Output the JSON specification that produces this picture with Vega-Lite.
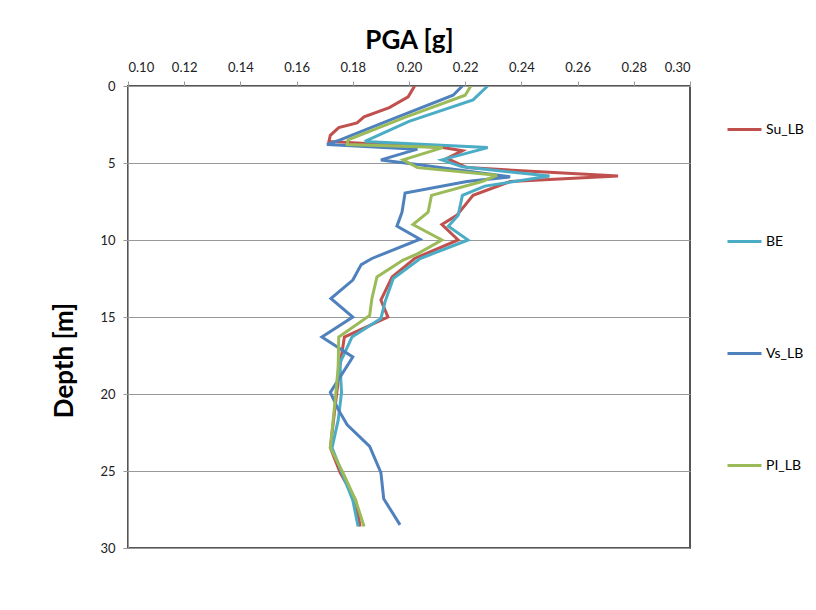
{
  "$schema": "https://vega.github.io/schema/vega-lite/v6.json",
  "width": 562,
  "height": 462,
  "autosize": {"type": "none"},
  "padding": {"left": 128, "top": 86, "right": 126, "bottom": 62},
  "background": "white",
  "config": {
    "font": "Lato",
    "view": {"stroke": "#555555", "strokeWidth": 2},
    "axis": {"labelFont": "Lato", "titleFont": "Lato"}
  },
  "data": {
    "values": [
      {"s": "Su_LB", "d": 0, "v": 0.202},
      {"s": "Su_LB", "d": 0.7, "v": 0.1997},
      {"s": "Su_LB", "d": 1.4, "v": 0.193},
      {"s": "Su_LB", "d": 2.0, "v": 0.184},
      {"s": "Su_LB", "d": 2.4, "v": 0.1815},
      {"s": "Su_LB", "d": 2.7, "v": 0.175},
      {"s": "Su_LB", "d": 3.2, "v": 0.172},
      {"s": "Su_LB", "d": 3.6, "v": 0.1715},
      {"s": "Su_LB", "d": 4.0, "v": 0.212},
      {"s": "Su_LB", "d": 4.2, "v": 0.219},
      {"s": "Su_LB", "d": 4.7, "v": 0.2135},
      {"s": "Su_LB", "d": 5.3, "v": 0.2206},
      {"s": "Su_LB", "d": 5.85, "v": 0.2744},
      {"s": "Su_LB", "d": 6.2, "v": 0.236},
      {"s": "Su_LB", "d": 7.1, "v": 0.2228},
      {"s": "Su_LB", "d": 8.4, "v": 0.217},
      {"s": "Su_LB", "d": 9.0, "v": 0.2117},
      {"s": "Su_LB", "d": 10.0, "v": 0.2175},
      {"s": "Su_LB", "d": 11.2, "v": 0.202},
      {"s": "Su_LB", "d": 12.4, "v": 0.194},
      {"s": "Su_LB", "d": 13.9, "v": 0.190},
      {"s": "Su_LB", "d": 15.0, "v": 0.1925},
      {"s": "Su_LB", "d": 16.3, "v": 0.177},
      {"s": "Su_LB", "d": 18.2, "v": 0.1754},
      {"s": "Su_LB", "d": 19.9, "v": 0.1743},
      {"s": "Su_LB", "d": 23.5, "v": 0.172},
      {"s": "Su_LB", "d": 25.1, "v": 0.1755},
      {"s": "Su_LB", "d": 26.9, "v": 0.181},
      {"s": "Su_LB", "d": 28.6, "v": 0.1826},

      {"s": "BE", "d": 0, "v": 0.228},
      {"s": "BE", "d": 0.9, "v": 0.2228},
      {"s": "BE", "d": 2.3, "v": 0.2},
      {"s": "BE", "d": 3.6, "v": 0.1843},
      {"s": "BE", "d": 4.0, "v": 0.228},
      {"s": "BE", "d": 4.8, "v": 0.2117},
      {"s": "BE", "d": 5.25, "v": 0.219},
      {"s": "BE", "d": 5.85, "v": 0.250},
      {"s": "BE", "d": 6.5, "v": 0.227},
      {"s": "BE", "d": 7.1, "v": 0.219},
      {"s": "BE", "d": 8.4, "v": 0.2175},
      {"s": "BE", "d": 9.1, "v": 0.214},
      {"s": "BE", "d": 10.0, "v": 0.221},
      {"s": "BE", "d": 11.2, "v": 0.204},
      {"s": "BE", "d": 12.5, "v": 0.1944},
      {"s": "BE", "d": 14.0, "v": 0.1915},
      {"s": "BE", "d": 15.1, "v": 0.190},
      {"s": "BE", "d": 16.3, "v": 0.1797},
      {"s": "BE", "d": 18.0, "v": 0.1754},
      {"s": "BE", "d": 19.9, "v": 0.176},
      {"s": "BE", "d": 21.7, "v": 0.1748},
      {"s": "BE", "d": 23.5, "v": 0.1726},
      {"s": "BE", "d": 26.9, "v": 0.180},
      {"s": "BE", "d": 28.6, "v": 0.1819},

      {"s": "Vs_LB", "d": 0, "v": 0.219},
      {"s": "Vs_LB", "d": 0.6, "v": 0.2157},
      {"s": "Vs_LB", "d": 2.3, "v": 0.192},
      {"s": "Vs_LB", "d": 3.5, "v": 0.1755},
      {"s": "Vs_LB", "d": 3.8, "v": 0.1708},
      {"s": "Vs_LB", "d": 4.1, "v": 0.203},
      {"s": "Vs_LB", "d": 4.8, "v": 0.190},
      {"s": "Vs_LB", "d": 5.1, "v": 0.203},
      {"s": "Vs_LB", "d": 5.9, "v": 0.236},
      {"s": "Vs_LB", "d": 6.2, "v": 0.2206},
      {"s": "Vs_LB", "d": 6.95, "v": 0.1986},
      {"s": "Vs_LB", "d": 8.2, "v": 0.1975},
      {"s": "Vs_LB", "d": 9.1, "v": 0.1957},
      {"s": "Vs_LB", "d": 9.95, "v": 0.2039},
      {"s": "Vs_LB", "d": 11.2, "v": 0.1868},
      {"s": "Vs_LB", "d": 11.6, "v": 0.183},
      {"s": "Vs_LB", "d": 12.6, "v": 0.180},
      {"s": "Vs_LB", "d": 13.8, "v": 0.1722},
      {"s": "Vs_LB", "d": 15.0, "v": 0.180},
      {"s": "Vs_LB", "d": 16.3, "v": 0.169},
      {"s": "Vs_LB", "d": 17.6, "v": 0.180},
      {"s": "Vs_LB", "d": 19.9, "v": 0.172},
      {"s": "Vs_LB", "d": 21.0, "v": 0.1748},
      {"s": "Vs_LB", "d": 22.0, "v": 0.178},
      {"s": "Vs_LB", "d": 23.4, "v": 0.186},
      {"s": "Vs_LB", "d": 25.1, "v": 0.190},
      {"s": "Vs_LB", "d": 26.8, "v": 0.191},
      {"s": "Vs_LB", "d": 28.5, "v": 0.1968},

      {"s": "PI_LB", "d": 0, "v": 0.222},
      {"s": "PI_LB", "d": 0.6, "v": 0.220},
      {"s": "PI_LB", "d": 2.0, "v": 0.199},
      {"s": "PI_LB", "d": 3.5, "v": 0.1783},
      {"s": "PI_LB", "d": 3.8, "v": 0.178},
      {"s": "PI_LB", "d": 4.0, "v": 0.212},
      {"s": "PI_LB", "d": 4.8, "v": 0.1979},
      {"s": "PI_LB", "d": 5.3, "v": 0.203},
      {"s": "PI_LB", "d": 5.8, "v": 0.2313},
      {"s": "PI_LB", "d": 6.2, "v": 0.226},
      {"s": "PI_LB", "d": 7.1, "v": 0.208},
      {"s": "PI_LB", "d": 8.2, "v": 0.2068},
      {"s": "PI_LB", "d": 9.0, "v": 0.2014},
      {"s": "PI_LB", "d": 10.0, "v": 0.2117},
      {"s": "PI_LB", "d": 10.9, "v": 0.203},
      {"s": "PI_LB", "d": 11.3, "v": 0.1979},
      {"s": "PI_LB", "d": 12.4, "v": 0.1886},
      {"s": "PI_LB", "d": 13.8, "v": 0.1868},
      {"s": "PI_LB", "d": 14.9, "v": 0.186},
      {"s": "PI_LB", "d": 16.3, "v": 0.175},
      {"s": "PI_LB", "d": 18.2, "v": 0.1748},
      {"s": "PI_LB", "d": 19.9, "v": 0.174},
      {"s": "PI_LB", "d": 23.5, "v": 0.172},
      {"s": "PI_LB", "d": 25.1, "v": 0.1765},
      {"s": "PI_LB", "d": 26.9, "v": 0.181},
      {"s": "PI_LB", "d": 28.6, "v": 0.184}
    ]
  },
  "mark": {"type": "line", "strokeWidth": 3, "strokeJoin": "miter", "clip": true},
  "encoding": {
    "x": {
      "field": "v",
      "type": "quantitative",
      "scale": {"domain": [0.1, 0.3], "nice": false, "zero": false},
      "axis": {
        "orient": "top",
        "values": [0.1, 0.12, 0.14, 0.16, 0.18, 0.2, 0.22, 0.24, 0.26, 0.28, 0.3],
        "format": ".2f",
        "grid": false,
        "domainColor": "#999999",
        "tickColor": "#999999",
        "tickSize": 5,
        "labelFontSize": 13,
        "labelColor": "#222222",
        "labelPadding": 7,
        "title": "PGA [g]",
        "titleFontSize": 26,
        "titleFontWeight": "bold",
        "titleColor": "#000000",
        "titlePadding": 8
      }
    },
    "y": {
      "field": "d",
      "type": "quantitative",
      "scale": {"domain": [0, 30], "reverse": true, "nice": false},
      "axis": {
        "values": [0, 5, 10, 15, 20, 25, 30],
        "grid": true,
        "gridColor": "#999999",
        "gridOpacity": 1,
        "domainColor": "#999999",
        "tickColor": "#999999",
        "tickSize": 5,
        "labelFontSize": 13,
        "labelColor": "#222222",
        "labelPadding": 8,
        "title": "Depth [m]",
        "titleFontSize": 26,
        "titleFontWeight": "bold",
        "titleColor": "#000000",
        "titlePadding": 22,
        "titleY": 274
      }
    },
    "color": {
      "field": "s",
      "type": "nominal",
      "scale": {
        "domain": ["Su_LB", "BE", "Vs_LB", "PI_LB"],
        "range": ["#C0504D", "#4BACC6", "#4F81BD", "#9BBB59"]
      },
      "legend": {
        "title": null,
        "orient": "none",
        "legendX": 598,
        "legendY": 25,
        "symbolType": "stroke",
        "symbolSize": 1156,
        "symbolStrokeWidth": 3,
        "labelFontSize": 14,
        "labelColor": "#000000",
        "labelOffset": 3,
        "rowPadding": 86
      }
    },
    "order": {"field": "d", "type": "quantitative"}
  }
}
